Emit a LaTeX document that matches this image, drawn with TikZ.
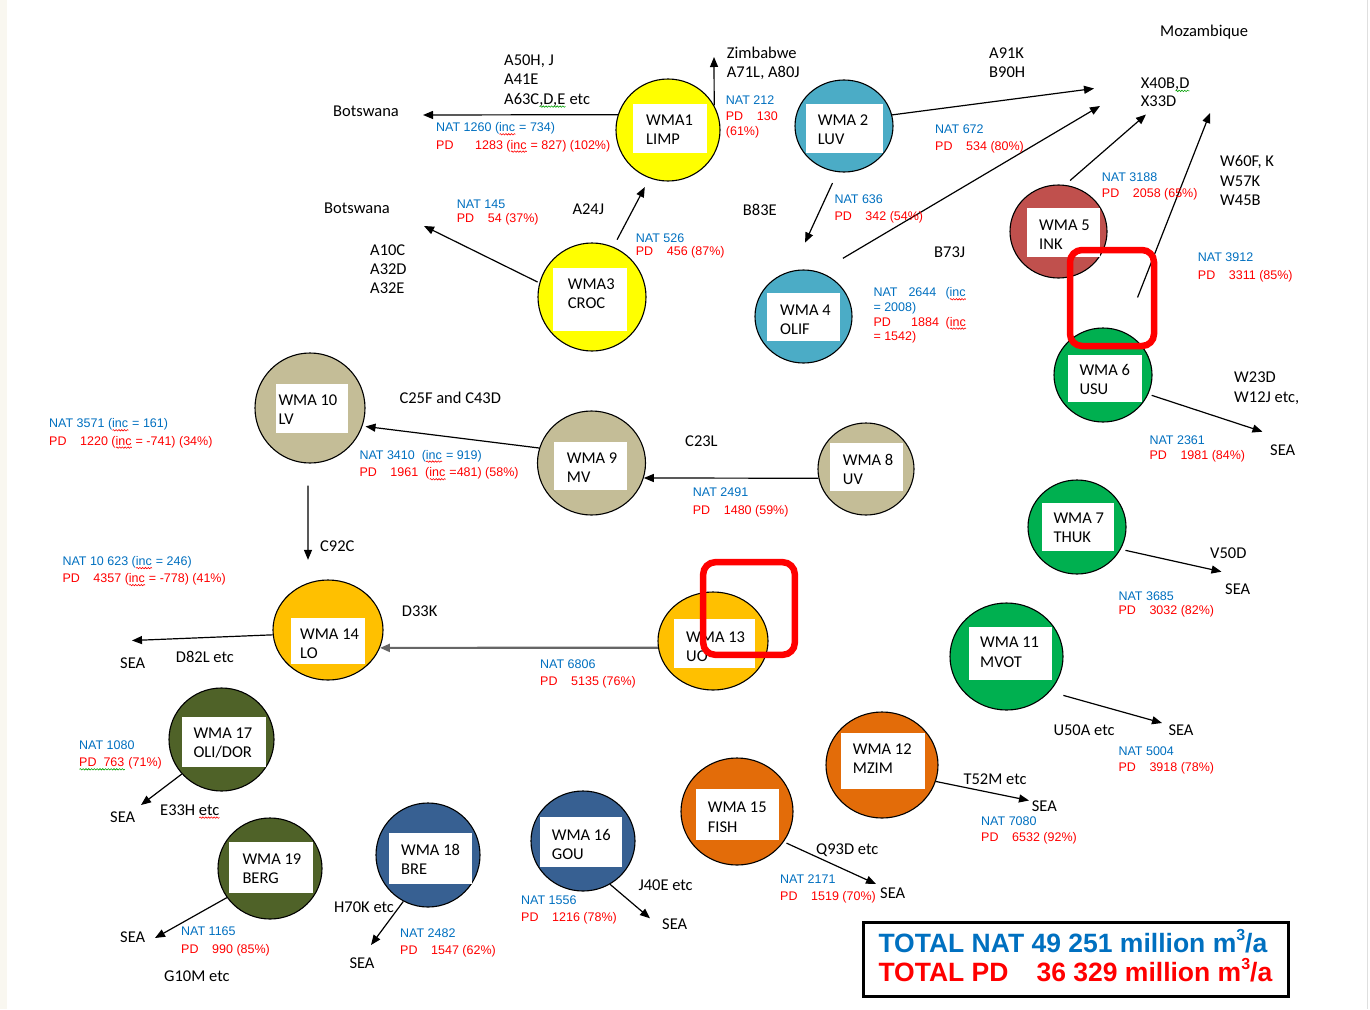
\documentclass[tikz,border=0pt]{standalone}
\usepackage{fontspec}
\setmainfont{Carlito}
\newfontfamily\arialfont{Liberation Sans}
\usetikzlibrary{shapes.geometric,arrows.meta,decorations.pathmorphing}

\definecolor{wmayellow}{HTML}{FFFF00}
\definecolor{wmateal}{HTML}{4BACC6}
\definecolor{wmabrick}{HTML}{C0504D}
\definecolor{wmagreen}{HTML}{00B050}
\definecolor{wmatan}{HTML}{C4BD97}
\definecolor{wmaamber}{HTML}{FFC000}
\definecolor{wmarust}{HTML}{E36C09}
\definecolor{wmanavy}{HTML}{376092}
\definecolor{wmaolive}{HTML}{4F6228}
\definecolor{natblue}{HTML}{0070C0}
\definecolor{pdred}{HTML}{FF0000}
\definecolor{sqgreen}{HTML}{00A000}
\definecolor{edgetint}{RGB}{249,247,240}

% wavy spell-check style underline under a word
\newlength\sqw
\newcommand\sqline[2]{\settowidth\sqw{#2}\rlap{#2}\tikz[baseline=0pt]\draw[#1, line width=0.6pt, decorate, decoration={snake, amplitude=0.7pt, segment length=2.8pt}] (0pt,-2.6pt) -- (\sqw,-2.6pt);}
\newcommand\rsq[1]{\sqline{red}{#1}}
\newcommand\gsq[1]{\sqline{sqgreen}{#1}}

% "PD" followed by a fixed gap before the figure
\newcommand\PD[1][31]{\makebox[#1pt][l]{PD}}
% cubic metres per annum, small raised 3
\newcommand\cubic{m\raisebox{0.42em}{\fontsize{16}{16}\selectfont 3}/a}

\tikzset{
  wma/.style={ellipse, draw=black, line width=1.1pt, inner sep=0pt},
  boxtext/.style={font=\fontsize{16.5}{19.5}\selectfont, inner sep=0pt, anchor=base west},
  lbl/.style={font=\fontsize{16.5}{19.5}\selectfont, inner sep=0pt, anchor=base west},
  natl/.style={font=\arialfont\fontsize{12.5}{15}\selectfont, text=natblue, inner sep=0pt, anchor=base west},
  pdl/.style={natl, text=pdred},
  flow/.style={draw=black, line width=1.2pt, -{Triangle[length=10pt,width=8pt]}},
  hilite/.style={draw=red, line width=6.5pt, rounded corners=12pt},
  total/.style={font=\arialfont\bfseries\fontsize{26.5}{30}\selectfont, inner sep=0pt},
}

% WMA disc: name, colour, x, y, width, height
\newcommand\wmacircle[6]{\node[wma, fill=#2, minimum width=#5, minimum height=#6] (#1) at (#3,#4) {};}
% white name panel: name, x1, y1, x2, y2, text x, first baseline, line 1, line 2
\newcommand\wmalabel[9]{%
  \fill[white] (#2,#3) rectangle (#4,#5);
  \node[boxtext] (#1a) at (#6,#7) {#8};
  \node[boxtext] (#1b) at (#6,{#7+19.5}) {#9};}
% NAT / PD pair: name, x, NAT baseline, PD baseline, NAT text, PD text
\newcommand\natpd[6]{%
  \node[natl] (#1-nat) at (#2,#3) {#5};
  \node[pdl] (#1-pd) at (#2,#4) {#6};}

\begin{document}
\begin{tikzpicture}[x=1pt,y=-1pt]
\fill[white] (0,0) rectangle (1370,1009);
\useasboundingbox (0,0) rectangle (1370,1009);
\fill[edgetint] (0,0) rectangle (7,1009);
\draw[gray!25, line width=1pt] (1367.5,0) -- (1367.5,1009);

% ---- water management areas ----
\wmacircle{w1}{wmayellow}{668}{130}{104}{102}
\wmacircle{w2}{wmateal}{844}{126}{98}{92}
\wmacircle{w3}{wmayellow}{592}{297}{108}{108}
\wmacircle{w4}{wmateal}{803.5}{316.5}{97}{93}
\wmacircle{w5}{wmabrick}{1058.5}{231.5}{97}{93}
\wmacircle{w6}{wmagreen}{1103}{375}{98}{94}
\wmacircle{w7}{wmagreen}{1077}{527}{98}{94}
\wmacircle{w8}{wmatan}{866}{469}{96}{92}
\wmacircle{w9}{wmatan}{591.5}{463}{108}{104}
\wmacircle{w10}{wmatan}{310}{408}{110}{110}
\wmacircle{w11}{wmagreen}{1006.5}{656.5}{113}{107}
\wmacircle{w12}{wmarust}{882}{765}{112}{106}
\wmacircle{w13}{wmaamber}{713}{641}{110}{98}
\wmacircle{w14}{wmaamber}{328}{630}{110}{100}
\wmacircle{w15}{wmarust}{737}{811.5}{112}{107}
\wmacircle{w16}{wmanavy}{583}{841}{104}{100}
\wmacircle{w17}{wmaolive}{221.5}{739.5}{105}{103}
\wmacircle{w18}{wmanavy}{428}{855}{104}{104}
\wmacircle{w19}{wmaolive}{270}{868.5}{104}{101}

\wmalabel{w1}{633}{104}{707}{153}{646}{125}{WMA1}{LIMP}
\wmalabel{w2}{806}{104}{883}{153}{817.7}{125}{WMA 2}{LUV}
\wmalabel{w3}{553}{268}{627}{331}{567.7}{289.3}{WMA3}{CROC}
\wmalabel{w4}{767}{293}{840}{341}{780}{315}{WMA 4}{OLIF}
\wmalabel{w5}{1027}{208}{1100}{257}{1039}{230}{WMA 5}{INK}
\wmalabel{w6}{1068}{355}{1142}{402}{1079.3}{375}{WMA 6}{USU}
\wmalabel{w7}{1042}{503}{1114}{551}{1053.3}{523.3}{WMA 7}{THUK}
\wmalabel{w8}{830}{443}{903}{491}{842.7}{465}{WMA 8}{UV}
\wmalabel{w9}{554}{442}{627}{490}{566.7}{463.3}{WMA 9}{MV}
\wmalabel{w10}{276}{384}{348}{433}{278.3}{405}{WMA 10}{LV}
\wmalabel{w11}{969}{627}{1052}{680}{980}{647.5}{WMA 11}{MVOT}
\wmalabel{w12}{841}{733}{925}{789}{852.7}{754}{WMA 12}{MZIM}
\wmalabel{w13}{674}{619}{755}{668}{686}{642.3}{WMA 13}{UO}
\wmalabel{w14}{291}{618}{365}{664}{300}{639.3}{WMA 14}{LO}
\wmalabel{w15}{696}{789}{779}{840}{707.7}{812.7}{WMA 15}{FISH}
\wmalabel{w16}{540}{817}{622}{867}{551.7}{840}{WMA 16}{GOU}
\wmalabel{w17}{182}{717}{266}{767}{193.3}{738.3}{WMA 17}{OLI/DOR}
\wmalabel{w18}{389}{833}{472}{884}{401}{855}{WMA 18}{BRE}
\wmalabel{w19}{229}{842}{313}{893}{242.3}{864}{WMA 19}{BERG}

% ---- outflow end points ----
\coordinate (bw1) at (423,115);
\coordinate (zim) at (714,57);
\coordinate (bw2) at (424,226);
\coordinate (moz1) at (1094,88.5);
\coordinate (moz2) at (1100,106);
\coordinate (moz3) at (1146,114.5);
\coordinate (moz4) at (1210,113);
\coordinate (sea6) at (1262.5,431.7);
\coordinate (sea7) at (1221.5,571.7);
\coordinate (sea14) at (132,640.5);
\coordinate (sea17) at (141,805);
\coordinate (sea19) at (155,938);
\coordinate (sea18) at (371,945);
\coordinate (sea16) at (650,918.3);
\coordinate (sea15) at (876,884);
\coordinate (sea12) at (1029,800.5);
\coordinate (sea11) at (1162,723);

% ---- flows ----
\draw[flow] (w1.163) -- (bw1);
\draw[flow] (w1.28) -- (zim);
\draw[flow, shorten <=8pt, shorten >=10pt] (w3.67) -- (w1.249);
\draw[flow, shorten <=2pt] (w3.165) -- (bw2);
\draw[flow] (w2.13) -- (moz1);
\draw[flow, shorten <=12pt, shorten >=31pt] (w2.262) -- (w4.104);
\draw[flow, shorten <=27pt] (w4.70) -- (moz2);
\draw[flow, shorten <=6.6pt] (w5.82) -- (moz3);
\draw[flow, shorten <=37pt] (w6.64) -- (moz4);
\draw[flow, shorten <=3.5pt] (w6.337) -- (sea6);
\draw[flow, shorten <=4.8pt] (w7.333) -- (sea7);
\draw[flow] (w8.191) -- (w9.344);
\draw[flow, shorten >=3pt] (w9.164) -- (w10.341);
\draw[flow, shorten <=22pt, shorten >=23pt] (w10.268) -- (w14.113);
\draw[flow, draw=black!60, line width=2.2pt] (w13.187) -- (w14.341);
\draw[flow] (w14.185) -- (sea14);
\draw[flow] (w17.221) -- (sea17);
\draw[flow] (w19.214) -- (sea19);
\draw[flow] (w18.242) -- (sea18);
\draw[flow] (w16.302) -- (sea16);
\draw[flow, shorten <=3pt] (w15.327) -- (sea15);
\draw[flow] (w12.343) -- (sea12);
\draw[flow, shorten <=14pt] (w11.321) -- (sea11);

% ---- quaternary catchment and destination labels ----
\node[lbl] (t-bots1) at (333,116.7) {Botswana};
\node[lbl] (t-a50) at (504,65) {A50H, J};
\node[lbl] (t-a41) at (504,84.3) {A41E};
\node[lbl] (t-a63) at (504,104) {A63C\gsq{,D,E} etc};
\node[lbl] (t-zim1) at (726.7,58.3) {Zimbabwe};
\node[lbl] (t-zim2) at (726.7,77.7) {A71L, A80J};
\node[lbl] (t-a91) at (989,58.3) {A91K};
\node[lbl] (t-b90) at (989,77.7) {B90H};
\node[lbl] (t-moz) at (1160,36) {Mozambique};
\node[lbl] (t-x40) at (1140.7,88.3) {X40B\gsq{,D}};
\node[lbl] (t-x33) at (1140.7,106.7) {X33D};
\node[lbl] (t-w60) at (1220,166.7) {W60F, K};
\node[lbl] (t-w57) at (1220,186) {W57K};
\node[lbl] (t-w45) at (1220,205) {W45B};
\node[lbl] (t-bots2) at (324,213.3) {Botswana};
\node[lbl] (t-a24) at (572.3,214.3) {A24J};
\node[lbl] (t-b83) at (742.7,215) {B83E};
\node[lbl] (t-a10) at (370,255) {A10C};
\node[lbl] (t-a32d) at (370,274.3) {A32D};
\node[lbl] (t-a32e) at (370,293.3) {A32E};
\node[lbl] (t-b73) at (934,257.3) {B73J};
\node[lbl] (t-w23) at (1234,382.7) {W23D};
\node[lbl] (t-w12) at (1234,402.7) {W12J etc,};
\node[lbl] (t-sea6) at (1270,455.7) {SEA};
\node[lbl] (t-c25) at (399.3,403.3) {C25F and C43D};
\node[lbl] (t-c23) at (685,446.7) {C23L};
\node[lbl] (t-c92) at (320,551.7) {C92C};
\node[lbl] (t-v50) at (1210,558.3) {V50D};
\node[lbl] (t-sea7) at (1225,594.3) {SEA};
\node[lbl] (t-d33) at (401.7,616.7) {D33K};
\node[lbl] (t-sea14) at (120,668.3) {SEA};
\node[lbl] (t-d82) at (175.7,662.3) {D82L etc};
\node[lbl] (t-u50) at (1053.3,735) {U50A etc};
\node[lbl] (t-sea11) at (1168.3,735) {SEA};
\node[lbl] (t-t52) at (963.3,784.3) {T52M etc};
\node[lbl] (t-sea12) at (1031.7,811.7) {SEA};
\node[lbl] (t-sea17) at (110,822.7) {SEA};
\node[lbl] (t-e33) at (160,815) {E33H \rsq{etc}};
\node[lbl] (t-q93) at (816,854.3) {Q93D etc};
\node[lbl] (t-sea15) at (880,898.3) {SEA};
\node[lbl] (t-j40) at (638.3,890) {J40E etc};
\node[lbl] (t-sea16) at (662,929.3) {SEA};
\node[lbl] (t-h70) at (334,912.7) {H70K etc};
\node[lbl] (t-sea19) at (120,942.7) {SEA};
\node[lbl] (t-sea18) at (349.3,968.3) {SEA};
\node[lbl] (t-g10) at (164,981.7) {G10M etc};

% ---- natural (NAT) and present-day (PD) flows ----
\natpd{f1}{436}{131.7}{149}{NAT 1260 (\rsq{inc} = 734)}{\PD[39]1283 (\rsq{inc} = 827) (102\%)}
\natpd{f2}{725.7}{104}{120}{NAT 212}{\PD 130}
\node[pdl] (f2-pct) at (725.7,135) {(61\%)};
\natpd{f3}{935}{133.3}{150}{NAT 672}{\PD 534 (80\%)}
\natpd{f4}{456.7}{208.3}{222.7}{NAT 145}{\PD 54 (37\%)}
\natpd{f5}{635.7}{242}{255.3}{NAT 526}{\PD 456 (87\%)}
\natpd{f6}{834.3}{203.3}{220}{NAT 636}{\PD 342 (54\%)}
\natpd{f7}{1101.7}{181}{197.3}{NAT 3188}{\PD 2058 (65\%)}
\natpd{f8}{1197.7}{261.7}{279.3}{NAT 3912}{\PD 3311 (85\%)}
\node[natl] (f9-nat) at (873.3,296.7) {\makebox[35pt][l]{NAT}\makebox[37pt][l]{2644}(\rsq{inc}};
\node[natl] (f9-nat2) at (873.3,311) {= 2008)};
\node[pdl] (f9-pd) at (873.3,326) {\makebox[37.7pt][l]{PD}\makebox[34.5pt][l]{1884}(\rsq{inc}};
\node[pdl] (f9-pd2) at (873.3,340) {= 1542)};
\natpd{f10}{49}{427.7}{445}{NAT 3571 (\rsq{inc} = 161)}{\PD 1220 (\rsq{inc} = -741) (34\%)}
\natpd{f11}{359.3}{459}{476.7}{NAT 3410\ \ (\rsq{inc} = 919)}{\PD 1961\ \ (\rsq{inc} =481) (58\%)}
\natpd{f12}{692.7}{496.7}{514.3}{NAT 2491}{\PD 1480 (59\%)}
\natpd{f13}{1149.3}{444.3}{459.5}{NAT 2361}{\PD 1981 (84\%)}
\natpd{f14}{62.3}{565.5}{582.5}{NAT 10 623 (\rsq{inc} = 246)}{\PD 4357 (\rsq{inc} = -778) (41\%)}
\natpd{f15}{1118.3}{600}{614.8}{NAT 3685}{\PD 3032 (82\%)}
\natpd{f16}{540}{668.3}{685}{NAT 6806}{\PD 5135 (76\%)}
\natpd{f17}{1118.3}{755}{771.7}{NAT 5004}{\PD 3918 (78\%)}
\natpd{f18}{79}{749.5}{766.7}{NAT 1080}{\gsq{PD~~763} (71\%)}
\natpd{f19}{981}{825}{841}{NAT 7080}{\PD 6532 (92\%)}
\natpd{f20}{780}{883.3}{900}{NAT 2171}{\PD 1519 (70\%)}
\natpd{f21}{521}{904}{921}{NAT 1556}{\PD 1216 (78\%)}
\natpd{f22}{400}{937.3}{954.5}{NAT 2482}{\PD 1547 (62\%)}
\natpd{f23}{181}{935.7}{953.3}{NAT 1165}{\PD 990 (85\%)}

% ---- totals ----
\node[draw=black, line width=3.3pt, minimum width=424.8, minimum height=73.8, inner sep=0pt] (totalbox) at (1076,959.5) {};
\node[total, text=natblue, anchor=base west] (tot-nat) at (878.3,952) {TOTAL NAT 49 251 million \cubic};
\node[total, text=pdred, anchor=base west] (tot-pd) at (878.3,981) {TOTAL PD};
\node[total, text=pdred, anchor=base east] (tot-pdval) at (1272.5,981) {36 329 million \cubic};

% ---- highlight frames ----
\draw[hilite] (1070,250) rectangle (1154,346);
\draw[hilite] (703.2,562.2) rectangle (794.8,654.8);
\end{tikzpicture}
\end{document}
